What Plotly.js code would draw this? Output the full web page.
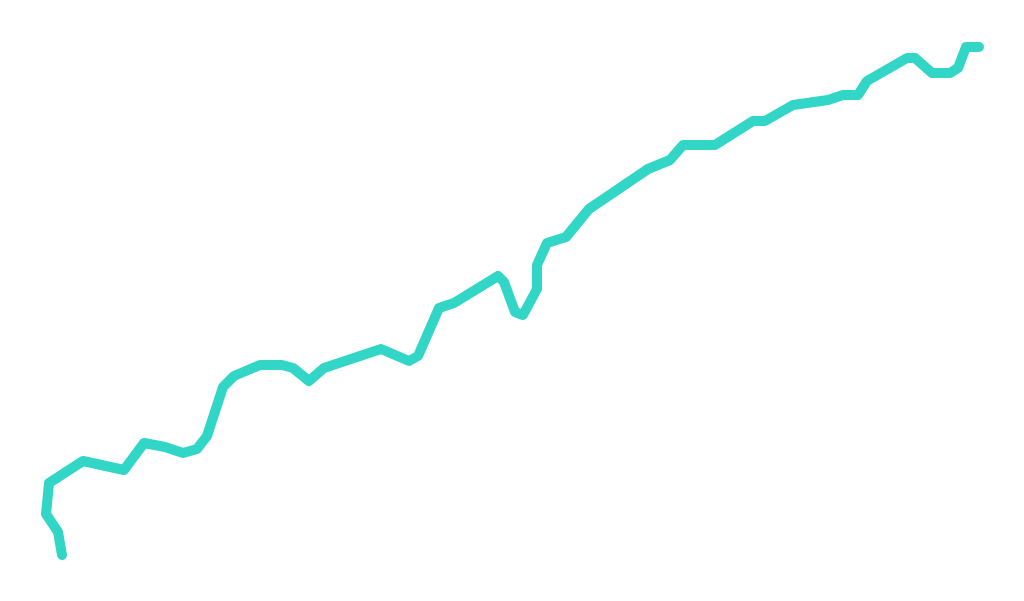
<!DOCTYPE html>
<html>
<head>
<meta charset="utf-8">
<script src="https://cdn.plot.ly/plotly-3.0.1.min.js"></script>
<style>
  html, body { margin: 0; padding: 0; background: #fff; }
  #chart { width: 1024px; height: 601px; }
  .scatterlayer path.js-line { stroke-linecap: round !important; stroke-linejoin: round !important; }
</style>
</head>
<body>
<div id="chart"></div>
<script>
// path points (x across, y up)
const xs = [62, 58, 46, 49, 83, 124, 144, 165, 183, 197, 207, 223, 234, 260, 282, 293, 309, 324,
            381, 409, 418, 439, 454, 498, 504, 515, 523, 537, 537, 547, 566, 589,
            648, 670, 683, 715, 753, 765, 793, 828, 843, 858, 867, 907, 915, 932, 950, 958, 966, 979];
const ys = [46, 69, 87, 118, 140, 131, 158, 154, 148, 152, 165, 214, 225, 236, 236, 233, 220, 233,
            252, 240, 245, 293, 298, 325, 319, 289, 286, 312, 336, 358, 364, 392,
            432, 441, 456, 456, 480, 480, 496, 501, 506, 506, 520, 543, 543, 528, 528, 533, 554, 554];

const trace = {
  x: xs,
  y: ys,
  type: 'scatter',
  mode: 'lines',
  line: { color: '#32d6c6', width: 10 },
  hoverinfo: 'none'
};

const layout = {
  width: 1024,
  height: 601,
  margin: { l: 0, r: 0, t: 0, b: 0 },
  paper_bgcolor: '#fff',
  plot_bgcolor: '#fff',
  showlegend: false,
  xaxis: { range: [0, 1024], visible: false, fixedrange: true },
  yaxis: { range: [0, 601], visible: false, fixedrange: true }
};

Plotly.newPlot('chart', [trace], layout, { staticPlot: true });
</script>
</body>
</html>
